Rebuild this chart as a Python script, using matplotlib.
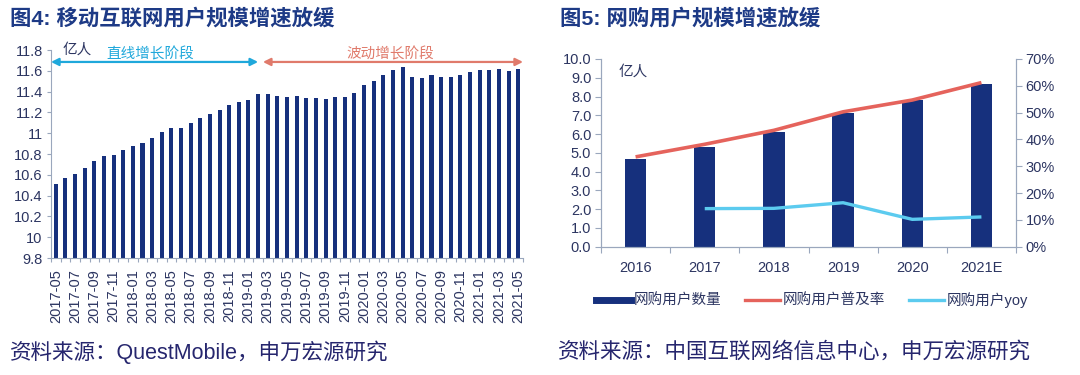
import matplotlib
matplotlib.use("Agg")
import matplotlib.pyplot as plt
from matplotlib.lines import Line2D
import numpy as np

plt.rcParams['font.family'] = ['Liberation Sans', 'Noto Sans CJK SC', 'DejaVu Sans']

# ---------------- data ----------------
months = [f"{y}-{m:02d}" for y in range(2017, 2022) for m in range(1, 13)]
months = months[months.index("2017-05"):months.index("2021-05") + 1]
mobile_users = [10.51, 10.57, 10.61, 10.67, 10.73, 10.78, 10.79, 10.84, 10.88, 10.91,
                10.95, 11.01, 11.05, 11.05, 11.10, 11.15, 11.18, 11.22, 11.27, 11.30,
                11.32, 11.38, 11.38, 11.36, 11.35, 11.36, 11.34, 11.34, 11.33, 11.35,
                11.35, 11.39, 11.46, 11.50, 11.56, 11.61, 11.64, 11.54, 11.53, 11.56,
                11.54, 11.54, 11.56, 11.59, 11.61, 11.61, 11.62, 11.60, 11.62]
left_yticks = [9.8, 10, 10.2, 10.4, 10.6, 10.8, 11, 11.2, 11.4, 11.6, 11.8]
left_ytick_labels = ["9.8", "10", "10.2", "10.4", "10.6", "10.8", "11", "11.2", "11.4", "11.6", "11.8"]

years = ["2016", "2017", "2018", "2019", "2020", "2021E"]
shop_users = [4.67, 5.33, 6.10, 7.10, 7.82, 8.65]
penetration = [33.5, 38.2, 43.4, 50.3, 54.7, 61.2]
yoy_years = ["2017", "2018", "2019", "2020", "2021E"]
yoy = [14.2, 14.3, 16.4, 10.2, 11.1]

# ---------------- style ----------------
NAVY = "#16307d"
TITLE = "#1d3a86"
TXT = "#2c3561"
SPINE = "#9aa7bd"
CYAN_A = "#1fa8db"
CORAL_A = "#e07a6b"
RED = "#e5635c"
CYAN = "#5ccbef"
SRC = "#26266e"
TICK_FS = 10.5

fig = plt.figure(figsize=(10.8, 3.75), dpi=100)

# ---------------- left chart ----------------
ax1 = fig.add_axes([51/1080, 1 - 258/375, (523 - 51)/1080, (258 - 50)/375])
x1 = np.arange(len(months))
ax1.bar(x1, np.array(mobile_users) - 9.8, bottom=9.8, width=0.42, color=NAVY)
ax1.set_xlim(-0.5, len(months) - 0.5)
ax1.set_ylim(9.8, 11.8)
ax1.set_yticks(left_yticks)
ax1.set_yticklabels(left_ytick_labels)
ax1.set_xticks(x1[::2])
ax1.set_xticklabels(months[::2], rotation=90)
ax1.set_xticks(np.arange(-0.5, len(months)), minor=True)
ax1.tick_params(axis='x', which='major', length=0, pad=8, labelsize=TICK_FS, labelcolor=TXT)
ax1.tick_params(axis='x', which='minor', length=3, color=SPINE, width=0.8)
ax1.tick_params(axis='y', length=3, color=SPINE, width=0.8, labelsize=TICK_FS, labelcolor=TXT, pad=3)
for s in ['top', 'right']:
    ax1.spines[s].set_visible(False)
for s in ['left', 'bottom']:
    ax1.spines[s].set_color(SPINE)
    ax1.spines[s].set_linewidth(0.8)

ax1.annotate("", xy=(-0.5, 11.685), xytext=(21.0, 11.685),
             arrowprops=dict(arrowstyle='<|-|>', color=CYAN_A, lw=1.6, mutation_scale=11,
                             shrinkA=0, shrinkB=0), annotation_clip=False)
ax1.annotate("", xy=(21.5, 11.685), xytext=(48.5, 11.685),
             arrowprops=dict(arrowstyle='<|-|>', color=CORAL_A, lw=1.6, mutation_scale=11,
                             shrinkA=0, shrinkB=0), annotation_clip=False)
ax1.text(9.8, 11.685, "直线增长阶段", color=CYAN_A, fontsize=10.5, ha='center', va='bottom')
ax1.text(34.7, 11.685, "波动增长阶段", color=CORAL_A, fontsize=10.5, ha='center', va='bottom')
ax1.text(0.7, 11.80, "亿人", color=TXT, fontsize=10.5, ha='left', va='center')

fig.text(10/1080, 1 - 18/375, "图4: 移动互联网用户规模增速放缓", fontsize=15.4,
         fontweight='bold', color=TITLE, ha='left', va='center')
fig.text(10/1080, 1 - 352/375, "资料来源：QuestMobile，申万宏源研究", fontsize=15.5,
         color=SRC, ha='left', va='center')

# ---------------- right chart ----------------
ax2 = fig.add_axes([601/1080, 1 - 246.7/375, (1016 - 601)/1080, (246.7 - 59)/375])
x2 = np.arange(len(years))
ax2.bar(x2, shop_users, width=0.31, color=NAVY)
ax2.set_xlim(-0.5, len(years) - 0.5)
ax2.set_ylim(0, 10)
ax2.set_yticks(np.arange(0, 10.01, 1.0))
ax2.set_yticklabels([f"{v:.1f}" for v in np.arange(0, 10.01, 1.0)])
ax2.set_xticks(x2)
ax2.set_xticklabels(years)
ax2.set_xticks(np.arange(-0.5, len(years)), minor=True)
ax2.tick_params(axis='x', which='major', length=0, pad=10, labelsize=TICK_FS, labelcolor=TXT)
ax2.tick_params(axis='x', which='minor', length=4, color=SPINE, width=0.8)
ax2.tick_params(axis='y', length=4, color=SPINE, width=0.8, labelsize=TICK_FS, labelcolor=TXT, pad=3)
ax2.text(-0.25, 9.3, "亿人", color=TXT, fontsize=10.5, ha='left', va='center')

ax3 = ax2.twinx()
ax3.plot(x2, penetration, color=RED, lw=2.6, solid_capstyle='butt')
ax3.plot([years.index(y) for y in yoy_years], yoy, color=CYAN, lw=2.4, solid_capstyle='butt')
ax3.set_ylim(0, 70)
ax3.set_yticks(np.arange(0, 71, 10))
ax3.set_yticklabels([f"{v}%" for v in range(0, 71, 10)])
ax3.tick_params(axis='y', length=4, color=SPINE, width=0.8, labelsize=TICK_FS, labelcolor=TXT, pad=3)
for a in (ax2, ax3):
    a.spines['top'].set_visible(False)
    for s in ['left', 'right', 'bottom']:
        a.spines[s].set_color(SPINE)
        a.spines[s].set_linewidth(0.8)

handles = [Line2D([0], [0], color=NAVY, lw=5),
           Line2D([0], [0], color=RED, lw=2.4),
           Line2D([0], [0], color=CYAN, lw=2.4)]
labels = ["网购用户数量", "网购用户普及率", "网购用户yoy"]
fig.legend(handles, labels, loc='center', bbox_to_anchor=(812/1080, 1 - 300/375), ncol=3,
           frameon=False, fontsize=TICK_FS, handlelength=2.4, columnspacing=1.6,
           handletextpad=0.2, labelcolor=TXT)

fig.text(560/1080, 1 - 18/375, "图5: 网购用户规模增速放缓", fontsize=15.4,
         fontweight='bold', color=TITLE, ha='left', va='center')
fig.text(558/1080, 1 - 352/375, "资料来源：中国互联网络信息中心，申万宏源研究", fontsize=15.5,
         color=SRC, ha='left', va='center')

fig.savefig("out.png", dpi=100, facecolor='white')
